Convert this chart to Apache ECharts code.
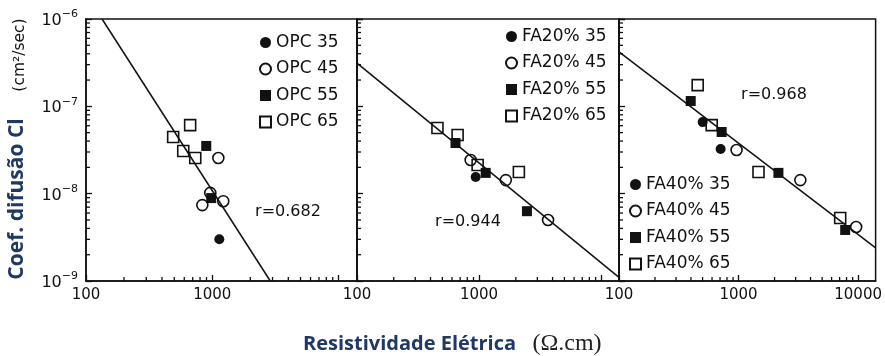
<!DOCTYPE html>
<html>
<head>
<meta charset="utf-8">
<script src="https://cdn.jsdelivr.net/npm/echarts@6/dist/echarts.min.js"></script>
<style>
  html, body { margin: 0; padding: 0; background: #fff; }
  #chart { width: 885px; height: 356px; }
</style>
</head>
<body>
<div id="chart"></div>
<script>
// Chloride diffusion coefficient (cm²/sec) against electrical resistivity (Ω.cm)
// Panel 1: plain OPC mixes
const opc35 = [[1137, 3.0e-9]];
const opc45 = [[1117, 2.56e-8], [964, 1.02e-8], [834, 7.4e-9], [1222, 8.2e-9]];
const opc55 = [[896, 3.52e-8], [981, 8.9e-9]];
const opc65 = [[668, 6.1e-8], [490, 4.46e-8], [589, 3.08e-8], [733, 2.56e-8]];
const opcFit = [[134, 1e-6], [2880, 1e-9]];

// Panel 2: 20% fly ash
const fa20_35 = [[938, 1.55e-8]];
const fa20_45 = [[853, 2.43e-8], [1656, 1.43e-8], [3673, 5.0e-9]];
const fa20_55 = [[641, 3.8e-8], [1133, 1.73e-8], [2466, 6.3e-9]];
const fa20_65 = [[456, 5.65e-8], [667, 4.7e-8], [973, 2.13e-8], [2118, 1.77e-8]];
const fa20Fit = [[100, 3.13e-7], [14000, 1.1e-9]];

// Panel 3: 40% fly ash
const fa40_35 = [[501, 6.6e-8], [708, 3.25e-8]];
const fa40_45 = [[962, 3.16e-8], [3286, 1.43e-8], [9623, 4.15e-9]];
const fa40_55 = [[398, 1.15e-7], [722, 5.08e-8], [2154, 1.73e-8], [7792, 3.84e-9]];
const fa40_65 = [[455, 1.75e-7], [596, 6.1e-8], [1468, 1.77e-8], [7079, 5.26e-9]];
const fa40Fit = [[100, 4.2e-7], [14000, 2.4e-9]];

// Correlation coefficients printed in each panel
const rLabels = ['r=0.682', 'r=0.944', 'r=0.968'];

// Axis ranges and minor tick positions
const xRange = [100, 14000];
const yRange = [1e-9, 1e-6];
const xMinor = [200, 300, 400, 500, 600, 700, 800, 900, 2000, 3000, 4000, 5000, 6000, 7000, 8000, 9000];
const yMinor = [2e-9, 3e-9, 4e-9, 5e-9, 6e-9, 7e-9, 8e-9, 9e-9,
                2e-8, 3e-8, 4e-8, 5e-8, 6e-8, 7e-8, 8e-8, 9e-8,
                2e-7, 3e-7, 4e-7, 5e-7, 6e-7, 7e-7, 8e-7, 9e-7];

const INK = '#111';
const NAVY = '#1f3864';
const grids = [
  { left: 86, top: 19, width: 271, height: 262 },
  { left: 357, top: 19, width: 262, height: 262 },
  { left: 619, top: 19, width: 259, height: 262 }
];

const panels = [
  { names: ['OPC 35', 'OPC 45', 'OPC 55', 'OPC 65'], sets: [opc35, opc45, opc55, opc65], fit: opcFit },
  { names: ['FA20% 35', 'FA20% 45', 'FA20% 55', 'FA20% 65'], sets: [fa20_35, fa20_45, fa20_55, fa20_65], fit: fa20Fit },
  { names: ['FA40% 35', 'FA40% 45', 'FA40% 55', 'FA40% 65'], sets: [fa40_35, fa40_45, fa40_55, fa40_65], fit: fa40Fit }
];

// marker styles: filled circle, open circle, filled square, open square
const markerKinds = [
  { symbol: 'circle', filled: true },
  { symbol: 'circle', filled: false },
  { symbol: 'rect', filled: true },
  { symbol: 'rect', filled: false }
];

const legendPos = [
  { left: 259, top: 34 },
  { left: 505, top: 28 },
  { left: 629, top: 176 }
];

function isDecade(v) {
  const l = Math.log10(v);
  return Math.abs(l - Math.round(l)) < 0.01;
}

function xLabel(gi) {
  return function (v) {
    if (!isDecade(v)) return '';
    const n = Math.round(v);
    if (gi < 2 && n >= 10000) return '';
    return String(n);
  };
}

function yLabel(v) {
  if (!isDecade(v)) return '';
  const e = Math.round(Math.log10(v));
  return '{b|10}{s|' + (e < 0 ? '\u2212' : '') + Math.abs(e) + '}';
}

// minor ticks on the bottom and left spines, placed through each panel's log scales
function tickSeries(gi) {
  const data = xMinor.map(v => [v, yRange[0], 0]).concat(yMinor.map(v => [xRange[0], v, 1]));
  return {
    type: 'custom',
    xAxisIndex: gi,
    yAxisIndex: gi,
    silent: true,
    clip: false,
    z: 10,
    encode: { x: 0, y: 1 },
    data: data,
    renderItem: function (params, api) {
      const cs = params.coordSys;
      const p = api.coord([api.value(0), api.value(1)]);
      const style = { stroke: INK, lineWidth: 1.3, fill: null };
      if (api.value(2) === 0) {
        const yb = cs.y + cs.height;
        return { type: 'line', shape: { x1: p[0], y1: yb, x2: p[0], y2: yb - 4 }, style: style };
      }
      return { type: 'line', shape: { x1: cs.x, y1: p[1], x2: cs.x + 4, y2: p[1] }, style: style };
    }
  };
}

const series = [];
const legends = [];
panels.forEach(function (pn, gi) {
  pn.sets.forEach(function (set, k) {
    const mk = markerKinds[k];
    series.push({
      type: 'scatter',
      name: pn.names[k],
      xAxisIndex: gi,
      yAxisIndex: gi,
      symbol: mk.symbol,
      symbolSize: mk.filled ? 10 : 11,
      z: mk.filled ? 3 : 4,
      itemStyle: {
        color: mk.filled ? INK : 'rgba(255,255,255,0)',
        borderColor: INK,
        borderWidth: mk.filled ? 0 : 1.6,
        opacity: 1
      },
      data: set
    });
  });
  series.push({
    type: 'line',
    xAxisIndex: gi,
    yAxisIndex: gi,
    showSymbol: false,
    symbol: 'none',
    silent: true,
    z: 6,
    lineStyle: { color: INK, width: 1.5 },
    data: pn.fit
  });
  series.push(tickSeries(gi));
  legends.push({
    orient: 'vertical',
    left: legendPos[gi].left,
    top: legendPos[gi].top,
    padding: 0,
    itemGap: 9.5,
    itemWidth: 11,
    itemHeight: 11,
    selectedMode: false,
    data: pn.names,
    textStyle: { fontFamily: 'DejaVu Sans', fontSize: 17, color: INK }
  });
});

const axisLineStyle = { color: INK, width: 1.5 };

const option = {
  animation: false,
  backgroundColor: '#fff',
  grid: grids.map(g => Object.assign({ show: true, borderColor: INK, borderWidth: 1.5, backgroundColor: 'rgba(0,0,0,0)' }, g)),
  xAxis: grids.map((g, gi) => ({
    type: 'log',
    logBase: 10,
    gridIndex: gi,
    min: xRange[0],
    max: xRange[1],
    axisLine: { show: true, lineStyle: axisLineStyle },
    axisTick: { show: true, inside: true, length: 6, lineStyle: { color: INK, width: 1.3 } },
    splitLine: { show: false },
    axisLabel: {
      show: true, margin: 7, showMaxLabel: false,
      fontFamily: 'DejaVu Sans', fontSize: 15, color: INK,
      formatter: xLabel(gi)
    }
  })),
  yAxis: grids.map((g, gi) => ({
    type: 'log',
    logBase: 10,
    gridIndex: gi,
    min: yRange[0],
    max: yRange[1],
    axisLine: { show: true, lineStyle: axisLineStyle },
    axisTick: { show: true, inside: true, length: 6, lineStyle: { color: INK, width: 1.3 } },
    splitLine: { show: false },
    axisLabel: {
      show: gi === 0, margin: 8,
      formatter: yLabel,
      rich: {
        b: { fontFamily: 'DejaVu Sans', fontSize: 16, color: INK, lineHeight: 20, verticalAlign: 'bottom' },
        s: { fontFamily: 'DejaVu Sans', fontSize: 11, color: INK, lineHeight: 12, verticalAlign: 'top' }
      }
    }
  })),
  legend: legends,
  graphic: [
    { type: 'text', x: 288, y: 212, style: { text: rLabels[0], fontFamily: 'DejaVu Sans', fontSize: 16, fill: INK, align: 'center', verticalAlign: 'middle' } },
    { type: 'text', x: 468, y: 222, style: { text: rLabels[1], fontFamily: 'DejaVu Sans', fontSize: 16, fill: INK, align: 'center', verticalAlign: 'middle' } },
    { type: 'text', x: 774, y: 95, style: { text: rLabels[2], fontFamily: 'DejaVu Sans', fontSize: 16, fill: INK, align: 'center', verticalAlign: 'middle' } },
    { type: 'text', x: 17, y: 199, rotation: Math.PI / 2, style: { text: 'Coef. difusão Cl', fontFamily: 'Open Sans', fontWeight: 'bold', fontSize: 21, fill: NAVY, align: 'center', verticalAlign: 'middle' } },
    { type: 'text', x: 20, y: 55, rotation: Math.PI / 2, style: { text: '(cm²/sec)', fontFamily: 'DejaVu Sans', fontSize: 15.5, fill: INK, align: 'center', verticalAlign: 'middle' } },
    { type: 'text', x: 303, y: 344, style: { text: 'Resistividade Elétrica', fontFamily: 'Open Sans', fontWeight: 'bold', fontSize: 20, fill: NAVY, align: 'left', verticalAlign: 'middle' } },
    { type: 'text', x: 567, y: 344, style: { text: '(Ω.cm)', fontFamily: 'Liberation Serif', fontSize: 24, fill: '#222', align: 'center', verticalAlign: 'middle' } }
  ],
  series: series
};

const chart = echarts.init(document.getElementById('chart'), null, { renderer: 'canvas' });
chart.setOption(option);
</script>
</body>
</html>
